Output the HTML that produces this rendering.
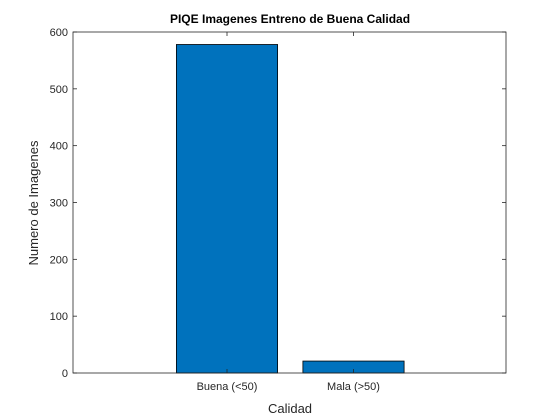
<!DOCTYPE html>
<html><head><meta charset="utf-8"><style>
body{margin:0;background:#fff;}
svg{display:block;font-family:"Liberation Sans",Arial,sans-serif;}
</style></head><body>
<svg id="chart" width="560" height="420">
<rect x="0" y="0" width="560" height="420" fill="#fff"/>
<g id="plot"></g>
</svg>
<script>
const categories=["Buena (<50)","Mala (>50)"];
const counts=[578,21];
const yTicks=[0,100,200,300,400,500,600];
const L=73,R=506,T=32,B=373;
const ymax=600;
function y(v){return B-(v/ymax)*(B-T);}
function x(i){return 227+i*126.5;}
const ns="http://www.w3.org/2000/svg";
const g=document.getElementById('plot');
function el(t,a,txt){const e=document.createElementNS(ns,t);for(const k in a)e.setAttribute(k,a[k]);if(txt!==undefined)e.textContent=txt;g.appendChild(e);return e;}
const bw=0.8*126.5;
counts.forEach((c,i)=>{
 const r=el('rect',{x:x(i)-bw/2,y:y(c),width:bw,height:B-y(c),fill:'#0072BD',stroke:'#000','stroke-width':0.8});
 
 
});
const ax=el('rect',{x:L,y:T,width:R-L,height:B-T,fill:'none',stroke:'#262626','stroke-width':0.8});


yTicks.forEach(t=>{
 el('line',{x1:L,x2:L+4,y1:y(t),y2:y(t),stroke:'#262626','stroke-width':0.8});
 el('line',{x1:R,x2:R-4,y1:y(t),y2:y(t),stroke:'#262626','stroke-width':0.8});
 const tx=el('text',{x:L-5,y:y(t)+4,'text-anchor':'end','font-size':11,fill:'#262626'},t);
 
 
});
categories.forEach((c,i)=>{
 el('line',{x1:x(i),x2:x(i),y1:B,y2:B-4,stroke:'#262626','stroke-width':0.8});
 el('line',{x1:x(i),x2:x(i),y1:T,y2:T+4,stroke:'#262626','stroke-width':0.8});
 const tx=el('text',{x:x(i),y:B+17,'text-anchor':'middle','font-size':11,fill:'#262626'},c);
 
 
});
const ti=el('text',{x:290,y:23,'text-anchor':'middle','font-size':12,'font-weight':'bold',fill:'#000'},'PIQE Imagenes Entreno de Buena Calidad');


const xl=el('text',{x:290,y:413,'text-anchor':'middle','font-size':13,fill:'#262626'},'Calidad');


const yl=el('text',{x:0,y:0,'text-anchor':'middle','font-size':13,fill:'#262626',transform:'translate(38,203) rotate(-90)'},'Numero de Imagenes');


</script>
</body></html>
